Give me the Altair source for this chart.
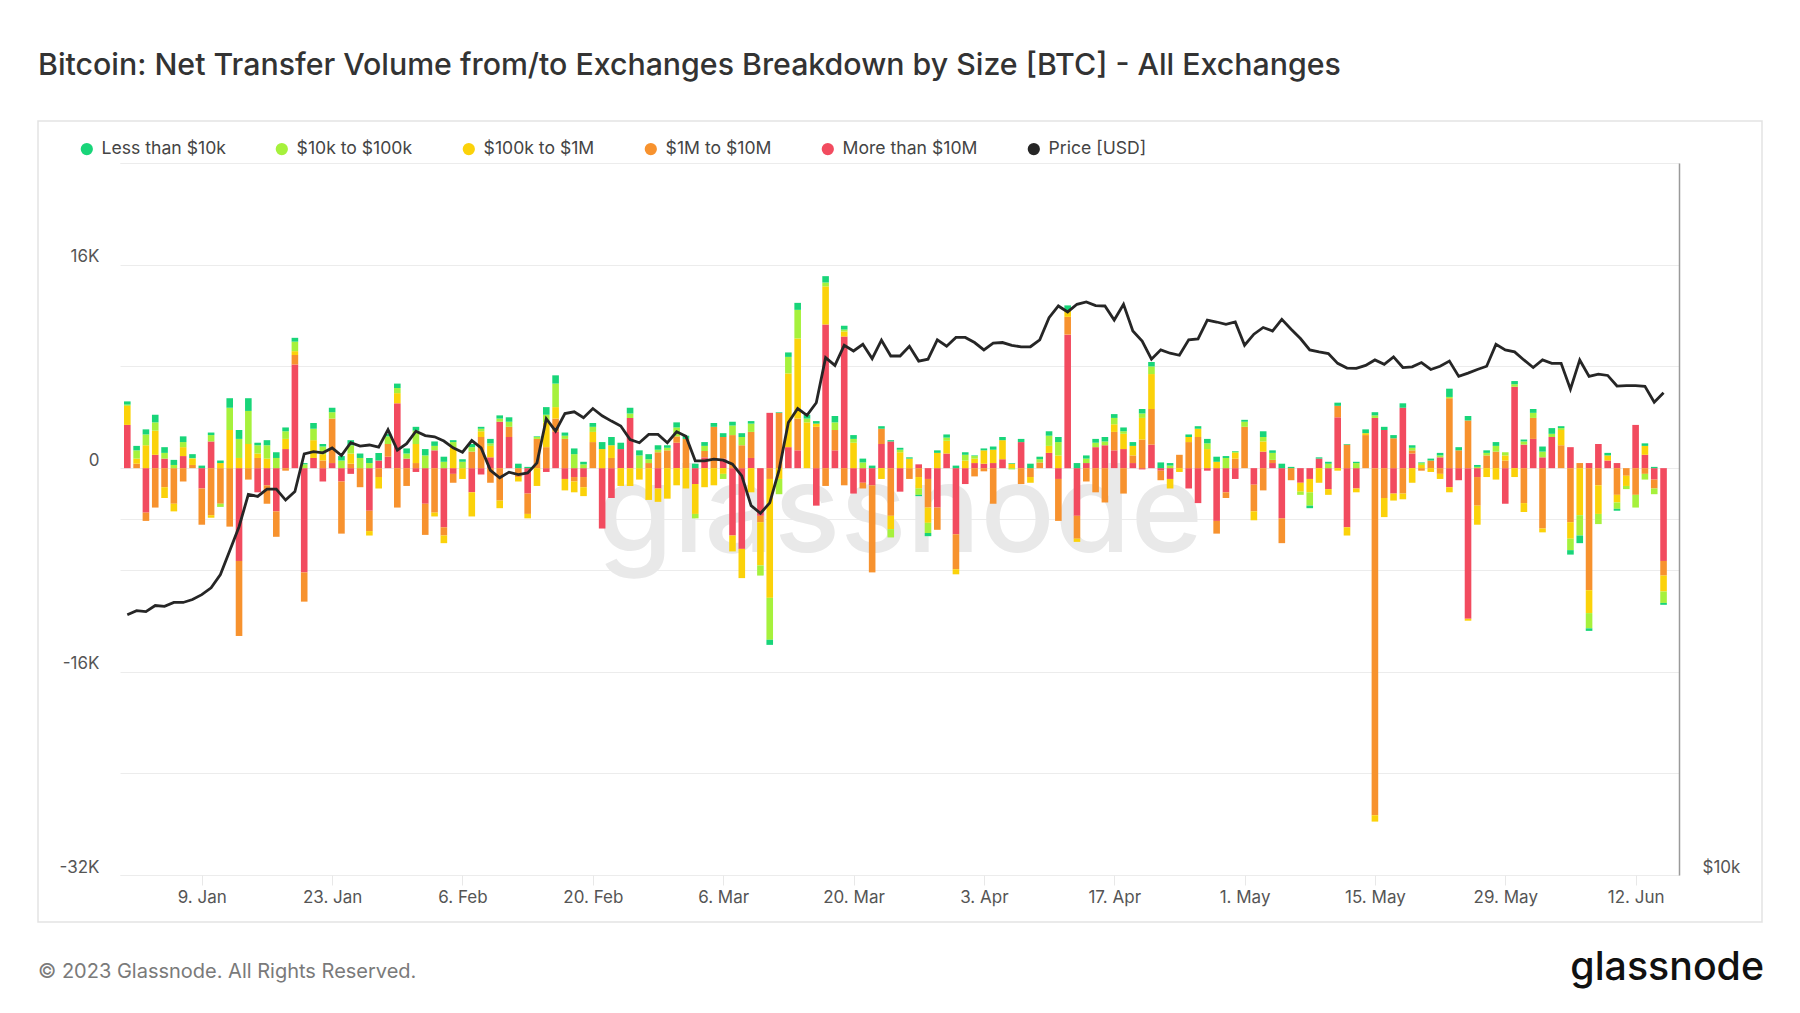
import altair as alt
import pandas as pd

# ---------------- data (net transfer volume in thousand BTC, price in thousand USD) ----------------
START = "2023-01-01"
N_DAYS = 166

SERIES = ["Less than $10k", "$10k to $100k", "$100k to $1M", "$1M to $10M", "More than $10M"]
PRICE_NAME = "Price [USD]"
COLORS = ["#18d579", "#a6f13c", "#fbd20a", "#f7922e", "#f24b5f", "#262626"]

more_10m = [3.4, 0, -3.5, 1.05, 0.75, 0, 0.95, 0, -1.6, 2.1,
            0, 0, -7.3, 0, -1.9, -1.35, -3.4, 1.5, 8.15, -8.2,
            0.8, -1.05, 0.4, -1.05, -0.45, 0, -3.35, 0.6, 0.9, 5.1,
            0.75, -0.3, -2.8, 1.4, -4.65, -0.45, 0, -1.9, -0.5, 0.85,
            3.65, 2.45, 0, -2.0, 0, -0.3, 2.85, -0.85, -0.7, -0.7,
            0, -4.75, -2.35, 1.5, 3.95, 0, 0, -1.6, 0, 2.0,
            0, -1.25, 0.85, 0, 0.75, -5.3, -6.35, 0.8, -3.75, 4.35,
            0, 1.65, 1.4, 0, -2.95, 11.3, 1.4, 10.35, -2.0, -1.15,
            -1.35, 1.9, 2.1, -1.85, 0, 0.3, -0.85, -3.1, 1.15, -5.2,
            -1.25, 0.4, 0.35, 0.4, 0.7, 0, 2.05, 0, 0, 1.2,
            -0.85, 10.5, -3.75, 0.4, 1.65, 1.8, 1.4, 1.5, 0.4, -0.1,
            1.85, -0.2, -0.85, 0, -1.6, -2.75, -0.2, -4.15, -1.9, -0.85,
            0, -1.3, 1.3, 0.4, -3.95, 0, -1.15, -0.85, 0.75, -1.65,
            4.0, -4.65, -1.6, 0, 3.95, 3.0, -2.0, 4.75, 1.15, 0,
            0, 0.85, -1.5, -0.95, -11.85, -0.7, 0, 0, -2.8, 6.4,
            1.85, 2.3, 0.85, 2.45, 0, 1.65, 0, 0.4, 1.9, 0.6,
            0.4, 0, 3.4, 1.05, -0.9, -7.3]

m1_10m = [0, 0.35, -0.65, -3.1, -1.5, -2.8, -1.05, 0.25, -2.85, -3.7,
          -2.8, -4.6, -5.9, -0.9, 0.8, -1.45, -2.0, -0.2, 0.75, -2.3,
          0, 0.6, 3.5, -4.1, 0.35, -1.5, -1.6, -0.7, 1.0, -3.1,
          -1.4, 0.4, -2.45, -3.5, -0.65, -0.7, 0, 1.3, 2.45, -1.15,
          -2.55, 0.8, -0.7, -1.6, 2.3, 1.65, 1.05, 2.3, -0.35, -0.8,
          2.05, 0, 0.8, 0, 0, 0, 0.4, 1.25, 1.4, 0.5,
          2.3, 0, 0.5, 3.25, 1.7, 2.6, 1.8, 2.05, -0.5, -0.85,
          4.35, 0, 2.5, 0, 3.25, -1.4, 1.6, -1.35, 0, -0.45,
          -6.85, 1.2, -3.75, 0, -0.85, -0.7, -2.25, -1.75, 0, -2.75,
          0, -0.65, -0.25, -2.8, 0, 0, -1.25, -0.7, 0.45, 0,
          -3.3, 1.4, -1.8, -1.05, -1.9, -2.7, 1.45, -2.0, 0.6, 2.25,
          2.8, -0.75, 0, 1.05, 2.05, 2.45, 0, -1.0, -0.45, 0.75,
          3.25, -2.1, -1.75, 0.25, -1.95, -0.95, 0, 0, 0, 0,
          0.9, 1.85, 0, 2.6, -27.3, -2.35, 2.35, -2.0, 0.25, -0.2,
          0.6, -0.45, 5.5, 1.4, 3.75, -2.25, 1.0, 1.3, 0.6, 0,
          -2.75, 1.65, -4.75, 0, 1.8, -4.25, 0.4, -9.6, -1.35, 0,
          -2.1, -0.6, -2.1, -0.45, -0.7, -1.15]

k100_1m = [1.5, 0.4, 1.8, 1.9, -0.85, -0.6, 0.7, 0.5, 0, -0.2,
           0.4, 3.0, 0.8, 1.9, 0.35, 0.75, 0, 0.8, 0.3, 0,
           1.4, 0.5, 0, 0, 0.8, 0, -0.35, -0.9, 0, 0.8,
           0, 1.5, 0, -0.3, -0.6, 1.65, -0.85, -1.9, 0.45, 0.9,
           -0.6, 0, -0.35, -0.35, -1.4, 1.95, 0.9, -0.9, -0.85, -0.7,
           0.8, 1.5, 1.0, -1.4, -1.4, -0.9, -2.5, -1.05, -2.4, -1.35,
           -1.6, -2.35, -1.5, -1.35, -0.45, -1.25, -2.3, -1.9, -3.4, -9.35,
           -0.85, 5.8, 6.3, 3.6, 0.25, 3.0, 0, 0.4, 2.0, 0,
           0, -0.85, -1.05, 1.25, 0.75, -0.9, -1.2, 1.2, 1.0, -0.4,
           0.6, 0.35, 1.05, 1.05, 1.5, 0.35, 0, -0.45, 0, 0.55,
           1.0, 0.5, -0.25, 0, 0, 0, 0.6, 1.2, 0.75, 1.7,
           2.75, 0, -0.75, -0.3, 0.4, 0.65, 1.5, 0.5, 0, 0.45,
           0, -0.7, 0.8, 0, 0, 0, -0.7, -1.05, -1.15, -0.45,
           -0.2, -0.65, -0.3, 0.15, -0.5, -1.5, -0.55, -0.45, -1.15, 0.25,
           -0.3, -0.4, -0.4, 0, -0.15, -1.5, -0.7, -0.9, 0.4, -0.7,
           -0.7, 0, -0.3, 0, 1.2, -1.3, -3.7, -1.8, -2.25, 0.4,
           -0.6, -0.8, 0, 0.7, 0, -1.25]

k10_100k = [0.1, 0.65, 0.85, 0.65, 0.45, 0.25, 0.4, 0.05, 0, 0.5,
            -0.25, 1.75, 1.5, 2.6, 0.65, 1.05, 0.8, 0.6, 0.75, 0.3,
            0.9, 0.6, 0.5, 0.6, 0.65, 0.8, 0.4, 0, 0.6, 0.4,
            0.4, 1.05, 1.0, 0.35, 0.5, 0.4, 0.5, 0.35, 0.2, 0.2,
            0.25, 0.4, 0, 0, 0.15, 0.6, 1.85, 0.25, 1.1, 0.3,
            0.4, 0, 0, 0, 0.35, 1.0, 0.3, 0.2, 0.2, 0.7,
            0, -0.35, 0.4, 0, -0.4, 0.75, 0.65, 0.65, -0.8, -3.3,
            -1.2, 1.3, 2.25, 0.3, 0, 0.3, 0.6, 0.15, 0.3, 0.45,
            0, 0, -0.65, 0.2, 0, -0.5, -0.8, 0, 0.25, 0,
            0.45, 0.2, 0, 0, 0, -0.1, 0, 0, 0.25, 0.8,
            1.05, 0, 0, 0.35, 0.35, 0.3, 0.5, 0.2, 0, 0.35,
            0.6, 0, 0.2, 0, 0, 0, 0.45, 0, 0.8, 0.1,
            0.4, 0, 0.35, 0.55, 0, 0, -0.25, -1.05, 0, 0.35,
            0, 0, 0.4, 0, 0.2, 0, 0, 0, 0.2, 0.15,
            0, 0.15, 0.1, 0, 0, 0.1, 0.2, 0.45, 0.25, 0.2,
            0.25, 0.4, 0.45, 0.25, 0.15, -0.9, -1.6, -1.2, -0.8, 0,
            -0.5, -0.25, -1.0, -0.45, -0.45, -0.9]

less_10k = [0.25, 0.35, 0.4, 0.6, 0.45, 0.4, 0.45, 0.3, 0.2, 0.2,
            0.2, 0.75, 0.7, 1.0, 0.2, 0.4, 0.45, 0.3, 0.3, 0.1,
            0.45, 0.2, 0.35, 0.35, 0.4, 0.35, 0.4, 0.6, 0.2, 0.35,
            0.4, 0.3, 0.5, 0.35, 0.4, 0.15, 0.2, 0.25, 0.15, 0.35,
            0.25, 0.35, 0.35, 0.1, 0.05, 0.6, 0.65, 0.25, 0.45, 0.2,
            0.3, 0.55, 0.65, 0.5, 0.45, 0.4, 0.4, 0.35, 0.2, 0.4,
            0.25, 0.35, 0.3, 0.3, 0.3, 0.3, 0.3, 0.2, 0, -0.4,
            0.05, 0.35, 0.55, 0.3, 0.2, 0.5, 0.5, 0.3, 0.3, 0.3,
            0.2, 0.2, 0.1, 0.15, 0.1, -0.1, -0.25, 0.2, 0.25, 0.2,
            0.2, 0.05, 0.15, 0.25, 0.25, 0.05, 0.25, 0.35, 0.2, 0.35,
            0.4, 0.4, 0.4, 0.25, 0.3, 0.35, 0.3, 0.3, 0.3, 0.35,
            0.35, 0.45, 0.2, 0, 0.2, 0.2, 0.35, 0.4, 0.15, 0.05,
            0.15, 0, 0.45, 0.2, 0.35, 0.1, 0, -0.2, 0.1, 0.15,
            0.25, 0.05, 0.1, 0.3, 0.25, 0.25, 0.25, 0.35, 0.2, 0.05,
            0.15, 0.2, 0.65, 0.25, 0.35, 0.15, 0.2, 0.3, 0, 0.25,
            0.15, 0.3, 0.4, 0.45, 0.15, -0.35, -0.6, -0.2, 0, 0.2,
            -0.15, 0, 0, 0.2, 0.1, -0.15]

price_k = [16.6, 16.73, 16.7, 16.9, 16.87, 17.0, 17.0, 17.1, 17.26, 17.49,
           17.95, 18.8, 19.7, 20.98, 20.9, 21.2, 21.2, 20.75, 21.1, 22.7,
           22.8, 22.75, 22.97, 22.63, 23.2, 23.05, 23.1, 23.0, 23.8, 22.87,
           23.16, 23.73, 23.53, 23.47, 23.28, 22.97, 22.78, 23.3, 22.97, 21.99,
           21.67, 21.91, 21.81, 21.88, 22.31, 24.31, 23.73, 24.56, 24.64, 24.36,
           24.8, 24.45, 24.2, 23.97, 23.35, 23.2, 23.58, 23.58, 23.2, 23.7,
           23.5, 22.4, 22.4, 22.47, 22.43, 22.25, 21.75, 20.53, 20.22, 20.64,
           22.0, 24.13, 24.8, 24.47, 25.08, 27.38, 26.97, 28.05, 27.74, 28.1,
           27.33, 28.33, 27.47, 27.47, 28.0, 27.2, 27.3, 28.35, 28.0, 28.48,
           28.48, 28.2, 27.8, 28.17, 28.2, 28.05, 27.96, 27.97, 28.35, 29.6,
           30.28, 29.93, 30.38, 30.52, 30.3, 30.28, 29.46, 30.38, 28.84, 28.28,
           27.3, 27.8, 27.62, 27.51, 28.35, 28.4, 29.46, 29.35, 29.22, 29.35,
           28.05, 28.66, 29.04, 28.84, 29.5, 28.94, 28.42, 27.8, 27.69, 27.6,
           27.08, 26.83, 26.82, 26.97, 27.26, 27.03, 27.42, 26.86, 26.9, 27.12,
           26.76, 26.93, 27.2, 26.4, 26.57, 26.76, 26.93, 28.1, 27.8, 27.69,
           27.26, 26.86, 27.26, 27.08, 27.08, 25.75, 27.26, 26.4, 26.52, 26.45,
           25.91, 25.93, 25.93, 25.9, 25.11, 25.57]

TICK_DATES = [(2023, 1, 9), (2023, 1, 23), (2023, 2, 6), (2023, 2, 20), (2023, 3, 6), (2023, 3, 20),
              (2023, 4, 3), (2023, 4, 17), (2023, 5, 1), (2023, 5, 15), (2023, 5, 29), (2023, 6, 12)]

TITLE = "Bitcoin: Net Transfer Volume from/to Exchanges Breakdown by Size [BTC] - All Exchanges"
COPYRIGHT = "© 2023 Glassnode. All Rights Reserved."
BRAND = "glassnode"

# ---------------- tables ----------------
dates = [d.strftime("%Y-%m-%d") for d in pd.date_range(START, periods=N_DAYS, freq="D")]
stack_series = [("More than $10M", more_10m), ("$1M to $10M", m1_10m), ("$100k to $1M", k100_1m),
                ("$10k to $100k", k10_100k), ("Less than $10k", less_10k)]
rows = []
for i, d in enumerate(dates):
    for rank, (name, arr) in enumerate(stack_series):
        rows.append({"date": d, "series": name, "value": arr[i] * 1000, "rank": rank})
bars_df = pd.DataFrame(rows)
price_df = pd.DataFrame({"date": dates, "price": [p * 1000 for p in price_k], "series": PRICE_NAME})
one = pd.DataFrame({"k": [0]})

FONT = "Inter"
GRID = "#ececec"
LABEL = "#555555"

x_scale = alt.Scale(type="utc", padding=0,
                    domain=[alt.DateTime(year=2022, month=12, date=31, hours=5, minutes=10, utc=True),
                            alt.DateTime(year=2023, month=6, date=16, hours=15, minutes=50, utc=True)])
x_axis = alt.Axis(values=[alt.DateTime(year=y, month=m, date=d, utc=True) for (y, m, d) in TICK_DATES],
                  labelExpr="utcFormat(datum.value, '%-d. %b')", grid=False, domain=False,
                  ticks=True, tickColor="#e8e8e8", tickSize=10, labelPadding=4,
                  labelFontSize=17, labelColor=LABEL, title=None)

color_scale = alt.Scale(domain=SERIES + [PRICE_NAME], range=COLORS)

frame = alt.Chart(one).mark_rect(fill=None, stroke="#e3e3e3", strokeWidth=1.5).encode(
    x=alt.value(-82), x2=alt.value(1642), y=alt.value(-42), y2=alt.value(759))

watermark = alt.Chart(one).mark_text(text=BRAND, fontSize=123, fontWeight=500, color="#e9e9e9",
                                     align="center", baseline="alphabetic", font=FONT).encode(
    x=alt.value(780), y=alt.value(389))

bars = alt.Chart(bars_df).mark_bar(width=6.6).encode(
    x=alt.X("date:T", scale=x_scale, axis=x_axis),
    y=alt.Y("value:Q", stack="zero",
            scale=alt.Scale(domain=[-32000, 24000], nice=False, zero=False),
            axis=alt.Axis(values=[-32000, -24000, -16000, -8000, 0, 8000, 16000, 24000],
                          labelExpr="datum.value % 16000 === 0 && datum.value < 20000 ? "
                                    "(datum.value === 0 ? '0' : (datum.value < 0 ? '-' : '') + abs(datum.value) / 1000 + 'K') : ''",
                          grid=True, gridColor=GRID, domain=False, ticks=False, labelPadding=21,
                          labelFontSize=17, labelColor=LABEL, labelBaseline="alphabetic",
                          labelOffset=-3, title=None)),
    color=alt.Color("series:N", scale=color_scale,
                    legend=alt.Legend(orient="none", legendX=-42, legendY=-23, direction="horizontal",
                                      title=None, symbolType="circle", symbolSize=150,
                                      symbolStrokeWidth=0, labelFontSize=17.6, labelColor="#444444",
                                      columnPadding=47, labelOffset=6, padding=0, labelFont=FONT)),
    order=alt.Order("rank:Q", sort="ascending"),
)

price = alt.Chart(price_df).mark_line(strokeWidth=2.8).encode(
    x=alt.X("date:T", scale=x_scale, axis=x_axis),
    y=alt.Y("price:Q", scale=alt.Scale(type="log", domain=[10000, 40000], nice=False),
            axis=alt.Axis(orient="right", values=[10000, 20000, 40000],
                          labelExpr="datum.value === 10000 ? '$10k' : ''",
                          grid=True, gridColor=GRID, domain=True, domainColor="#9a9a9a",
                          domainWidth=1.5, ticks=False, labelPadding=23, labelFontSize=17,
                          labelColor=LABEL, labelBaseline="alphabetic", labelOffset=-3, title=None)),
    color=alt.Color("series:N", scale=color_scale, legend=None),
)

title = alt.Chart(one).mark_text(text=TITLE, fontSize=30.3, fontWeight=500, color="#333333",
                                 align="left", baseline="middle", font=FONT).encode(
    x=alt.value(-82), y=alt.value(-97))

copyright_t = alt.Chart(one).mark_text(text=COPYRIGHT, fontSize=20, color="#7a7a7a",
                                       align="left", baseline="alphabetic", font=FONT).encode(
    x=alt.value(-82), y=alt.value(815))

brand = alt.Chart(one).mark_text(text=BRAND, fontSize=39.3, fontWeight=500, color="#111111",
                                 align="right", baseline="alphabetic", font=FONT).encode(
    x=alt.value(1644), y=alt.value(817))

chart = alt.layer(frame, watermark, bars, price, title, copyright_t, brand).resolve_scale(
    y="independent", color="shared"
).properties(
    width=1559, height=712,
    padding={"left": 112, "top": 155, "right": 100, "bottom": 115},
    autosize=alt.AutoSizeParams(type="none"),
).configure(font=FONT).configure_view(strokeWidth=0)

chart.save("out.html", embed_options={"renderer": "svg", "actions": False})
